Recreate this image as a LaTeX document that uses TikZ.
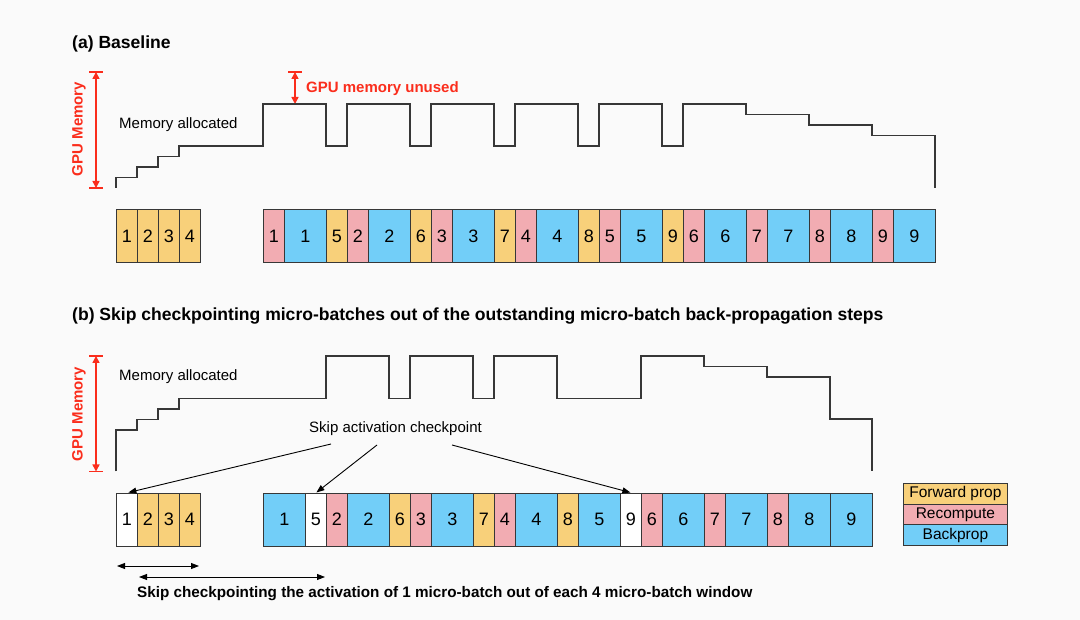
\documentclass[tikz,border=0pt]{standalone}
\usepackage{fontspec}
\setmainfont{Liberation Sans}
\usetikzlibrary{arrows.meta}
\definecolor{yc}{RGB}{248,208,122}
\definecolor{pc}{RGB}{242,172,178}
\definecolor{bc}{RGB}{114,206,248}
\definecolor{wc}{RGB}{255,255,255}
\definecolor{redc}{RGB}{250,45,28}
\definecolor{linec}{RGB}{55,55,55}
\definecolor{bgc}{RGB}{250,250,250}
\tikzset{
  cell/.style={draw=linec, line width=0.8pt, minimum height=53pt, inner sep=0pt, anchor=north west, font=\fontsize{18}{20}\selectfont},
  leg/.style={draw=linec, line width=0.8pt, minimum height=20.7pt, minimum width=104pt, inner sep=0pt, anchor=north west, font=\fontsize{15.5}{17}\selectfont},
  curve/.style={draw=linec, line width=1.2pt},
  redarrow/.style={draw=redc, line width=1.6pt, {Triangle[length=7pt,width=7pt]}-{Triangle[length=7pt,width=7pt]}},
  redtick/.style={draw=redc, line width=1.6pt},
  blackarrow/.style={draw=black, line width=0.9pt, -{Triangle[length=8pt,width=6pt]}},
  dblarrow/.style={draw=black, line width=0.9pt, {Triangle[length=8pt,width=6pt]}-{Triangle[length=8pt,width=6pt]}},
  reg/.style={font=\fontsize{15}{17}\selectfont, inner sep=0pt, anchor=west},
  bld/.style={font=\fontsize{15.25}{17}\selectfont\bfseries, inner sep=0pt, anchor=west},
  ttl/.style={font=\fontsize{17.55}{20}\selectfont\bfseries, inner sep=0pt, anchor=west},
  redlbl/.style={font=\fontsize{15}{17}\selectfont\bfseries, text=redc, inner sep=0pt},
}
\begin{document}
\begin{tikzpicture}[x=1pt,y=-1pt]
\fill[bgc] (0,0) rectangle (1080,620);
\useasboundingbox (0,0) rectangle (1080,620);

% titles
\node[ttl] (ta) at (72,44) {(a) Baseline};
\node[ttl] (tb) at (72,316) {(b) Skip checkpointing micro-batches out of the outstanding micro-batch back-propagation steps};

% ---------- (a) ----------
\node[redlbl, rotate=90] (gm1) at (79,129) {GPU Memory};
\coordinate (g1t) at (96,72);
\coordinate (g1b) at (96,188);
\draw[redarrow] (g1t) -- (g1b);
\draw[redtick] (89,72) -- (103,72);
\draw[redtick] (89,188) -- (103,188);

\coordinate (u1t) at (295,72);
\coordinate (u1b) at (295,104);
\draw[redarrow] (u1t) -- (u1b);
\draw[redtick] (288,72) -- (302,72);
\draw[redtick] (288,104) -- (302,104);
\node[redlbl, anchor=west] (unused) at (306,89) {GPU memory unused};

\node[reg] (ma1) at (119,125) {Memory allocated};

\draw[curve] (116,188) |- (137,177.5) |- (158,167) |- (179,156.5) |- (263,146)
  |- (326,104) |- (347,146) |- (410,104) |- (431,146) |- (494,104) |- (515,146)
  |- (578,104) |- (599,146) |- (662,104) |- (683,146) |- (746,104)
  |- (809,114.5) |- (872,125) |- (935,135.5) -- (935,188);

\foreach \x/\t [count=\i] in {116/1,137/2,158/3,179/4}
  \node[cell, fill=yc, minimum width=21pt] (sa\i) at (\x,209) {\t};

\foreach \x/\w/\c/\t [count=\i] in {
  263/21/pc/1, 284/42/bc/1, 326/21/yc/5, 347/21/pc/2, 368/42/bc/2,
  410/21/yc/6, 431/21/pc/3, 452/42/bc/3, 494/21/yc/7, 515/21/pc/4,
  536/42/bc/4, 578/21/yc/8, 599/21/pc/5, 620/42/bc/5, 662/21/yc/9,
  683/21/pc/6, 704/42/bc/6, 746/21/pc/7, 767/42/bc/7, 809/21/pc/8,
  830/42/bc/8, 872/21/pc/9, 893/42/bc/9}
  \node[cell, fill=\c, minimum width=\w pt] (a\i) at (\x,209) {\t};

% ---------- (b) ----------
\node[redlbl, rotate=90] (gm2) at (79,414) {GPU Memory};
\coordinate (g2t) at (96,356);
\coordinate (g2b) at (96,471.5);
\draw[redarrow] (g2t) -- (g2b);
\draw[redtick] (89,356) -- (103,356);
\draw[redtick] (89,471.5) -- (103,471.5);

\node[reg] (ma2) at (119,377) {Memory allocated};

\draw[curve] (116,471.5) |- (137,430) |- (158,419.5) |- (179,409) |- (326,398.5)
  |- (389,356) |- (410,398.5) |- (473,356) |- (494,398.5) |- (557,356)
  |- (641,398.5) |- (704,356) |- (767,366.5) |- (830,377) |- (872,419)
  -- (872,471.5);

\foreach \x/\c/\t [count=\i] in {116/wc/1,137/yc/2,158/yc/3,179/yc/4}
  \node[cell, fill=\c, minimum width=21pt] (sb\i) at (\x,492.5) {\t};

\foreach \x/\w/\c/\t [count=\i] in {
  263/42/bc/1, 305/21/wc/5, 326/21/pc/2, 347/42/bc/2, 389/21/yc/6,
  410/21/pc/3, 431/42/bc/3, 473/21/yc/7, 494/21/pc/4, 515/42/bc/4,
  557/21/yc/8, 578/42/bc/5, 620/21/wc/9, 641/21/pc/6, 662/42/bc/6,
  704/21/pc/7, 725/42/bc/7, 767/21/pc/8, 788/42/bc/8, 830/42/bc/9}
  \node[cell, fill=\c, minimum width=\w pt] (b\i) at (\x,492.5) {\t};

% skip activation checkpoint
\node[reg] (skip) at (309,429) {Skip activation checkpoint};
\coordinate (k1) at (331,444);
\coordinate (k2) at (377,445);
\coordinate (k3) at (452,445);
\draw[blackarrow] (k1) -- ([xshift=1.5pt]sb1.north);
\draw[blackarrow] (k2) -- ([xshift=0.5pt]b2.north);
\draw[blackarrow] (k3) -- ([xshift=-0.5pt]b13.north);

% window arrows
\coordinate (w1a) at (117,566);
\coordinate (w1b) at (199,566);
\coordinate (w2a) at (139,577);
\coordinate (w2b) at (325,577);
\draw[dblarrow] (w1a) -- (w1b);
\draw[dblarrow] (w2a) -- (w2b);
\node[bld] (wtxt) at (137,594) {Skip checkpointing the activation of 1 micro-batch out of each 4 micro-batch window};

% legend
\node[leg, fill=yc] (lf) at (903,483) {Forward prop};
\node[leg, fill=pc] (lr) at (903,503.7) {Recompute};
\node[leg, fill=bc] (lb) at (903,524.4) {Backprop};
\end{tikzpicture}
\end{document}
